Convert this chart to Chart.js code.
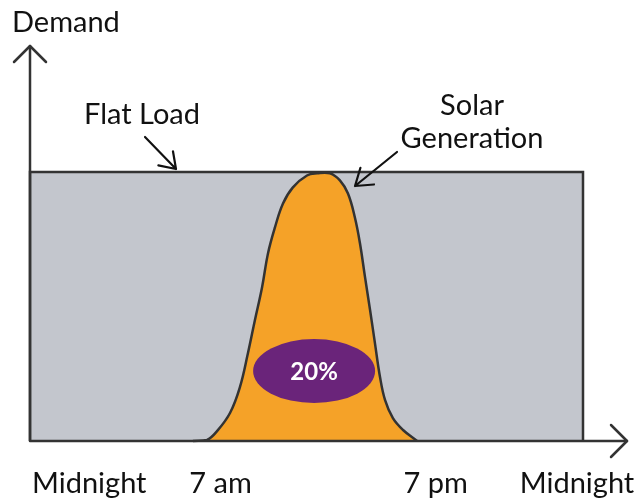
<!DOCTYPE html>
<html>
<head>
<meta charset="utf-8">
<script src="https://cdn.jsdelivr.net/npm/chart.js@4.4.1/dist/chart.umd.min.js"></script>
<style>
  html, body { margin: 0; padding: 0; background: #fff; }
  #wrap { width: 641px; height: 499px; }
</style>
</head>
<body>
<div id="wrap"><canvas id="demandChart" width="641" height="499"></canvas></div>
<script>
// Flat load block (hour of day, % of load)
const flatHours = [0, 0, 24, 24];
const flatValues = [0, 100, 100, 0];

// Solar generation curve (hour of day, % of load)
const solarHours = [7.07, 7.68, 8.10, 8.68, 9.11, 9.46, 9.76, 10.07, 10.33, 10.63, 10.98, 11.41, 12.02, 12.46,
                    13.02, 13.45, 13.80, 14.10, 14.32, 14.54, 14.76, 14.97, 15.19, 15.41, 15.75, 16.19, 16.80];
const solarValues = [0, 0.4, 3.5, 10.4, 20, 32.7, 44.9, 57.1, 69.8, 79.4, 88.3, 94.3, 98.7, 99.5,
                     99.5, 96.9, 92, 83.1, 73.5, 60.9, 48.6, 36.4, 23.8, 15.2, 8.5, 4.1, 0];

// x axis labels
const tickHours = [0, 7, 19, 24];
const tickLabels = ['Midnight', '7 am', '7 pm', 'Midnight'];

// share of the load covered by solar
const shareLabel = '20%';
const shareHour = 12.33;
const shareValue = 26;

const INK = '#333333';
const FONT = 'Lato, "Open Sans", sans-serif';

function toPoints(xs, ys) {
    return xs.map((x, i) => ({ x: x, y: ys[i] }));
}

// open arrow head at (x2, y2)
function pointer(ctx, x1, y1, x2, y2, len, spread) {
    const a = Math.atan2(y1 - y2, x1 - x2);
    ctx.beginPath();
    ctx.moveTo(x1, y1);
    ctx.lineTo(x2, y2);
    ctx.moveTo(x2 + len * Math.cos(a - spread), y2 + len * Math.sin(a - spread));
    ctx.lineTo(x2, y2);
    ctx.lineTo(x2 + len * Math.cos(a + spread), y2 + len * Math.sin(a + spread));
    ctx.stroke();
}

const sketchPlugin = {
    id: 'sketch',
    afterDraw(chart) {
        const ctx = chart.ctx;
        const area = chart.chartArea;
        const xs = chart.scales.x;
        const ys = chart.scales.y;
        ctx.save();
        ctx.strokeStyle = INK;
        ctx.lineWidth = 2.5;
        ctx.lineCap = 'round';
        ctx.lineJoin = 'round';

        // axes with arrow tips
        const ox = area.left, oy = area.bottom;
        ctx.beginPath();
        ctx.moveTo(ox, oy);
        ctx.lineTo(ox, 46);
        ctx.moveTo(ox, oy);
        ctx.lineTo(627, oy);
        ctx.stroke();
        ctx.beginPath();
        ctx.moveTo(ox - 16, 62);
        ctx.lineTo(ox, 46);
        ctx.lineTo(ox + 16, 62);
        ctx.moveTo(611, oy - 16);
        ctx.lineTo(627, oy);
        ctx.lineTo(611, oy + 16);
        ctx.stroke();

        // callout arrows
        ctx.strokeStyle = '#111';
        ctx.lineWidth = 2.2;
        pointer(ctx, 145, 137, 176, 169, 18, 0.6);
        pointer(ctx, 397, 152, 355, 186, 19, 0.6);

        // texts
        ctx.fillStyle = '#111';
        ctx.font = '29px ' + FONT;
        ctx.textBaseline = 'alphabetic';
        ctx.textAlign = 'left';
        ctx.fillText('Demand', 12, 32);
        ctx.textAlign = 'center';
        ctx.fillText('Flat Load', 142, 124);
        ctx.fillText('Solar', 472, 115);
        ctx.fillText('Generation', 472, 148);

        // x labels
        const aligns = ['left', 'left', 'right', 'center'];
        const nudges = [2, -2, 0, -6];
        tickHours.forEach((h, i) => {
            ctx.textAlign = aligns[i];
            ctx.fillText(tickLabels[i], xs.getPixelForValue(h) + nudges[i], 493);
        });

        // share badge
        const cx = xs.getPixelForValue(shareHour);
        const cy = ys.getPixelForValue(shareValue);
        ctx.fillStyle = '#6a247a';
        ctx.beginPath();
        ctx.ellipse(cx, cy, 61, 32, 0, 0, Math.PI * 2);
        ctx.fill();
        ctx.fillStyle = '#fff';
        ctx.font = 'bold 24px ' + FONT;
        ctx.textAlign = 'center';
        ctx.textBaseline = 'middle';
        ctx.fillText(shareLabel, cx, cy + 1);
        ctx.restore();
    }
};

const ctx = document.getElementById('demandChart').getContext('2d');
new Chart(ctx, {
    type: 'line',
    data: {
        datasets: [{
            label: 'Solar Generation',
            data: toPoints(solarHours, solarValues),
            backgroundColor: '#f5a228',
            borderColor: INK,
            borderWidth: 2.5,
            fill: 'origin',
            tension: 0.4,
            pointRadius: 0,
            clip: false,
            order: 0
        }, {
            label: 'Flat Load',
            data: toPoints(flatHours, flatValues),
            backgroundColor: '#c3c6cd',
            borderColor: INK,
            borderWidth: 2.5,
            fill: 'origin',
            tension: 0,
            pointRadius: 0,
            clip: false,
            order: 1
        }]
    },
    options: {
        responsive: false,
        animation: false,
        events: [],
        layout: { padding: { left: 30, right: 58, top: 172, bottom: 58 } },
        plugins: {
            legend: { display: false },
            tooltip: { enabled: false }
        },
        scales: {
            x: { type: 'linear', min: 0, max: 24, display: false },
            y: { min: 0, max: 100, display: false }
        }
    },
    plugins: [sketchPlugin]
});
</script>
</body>
</html>
